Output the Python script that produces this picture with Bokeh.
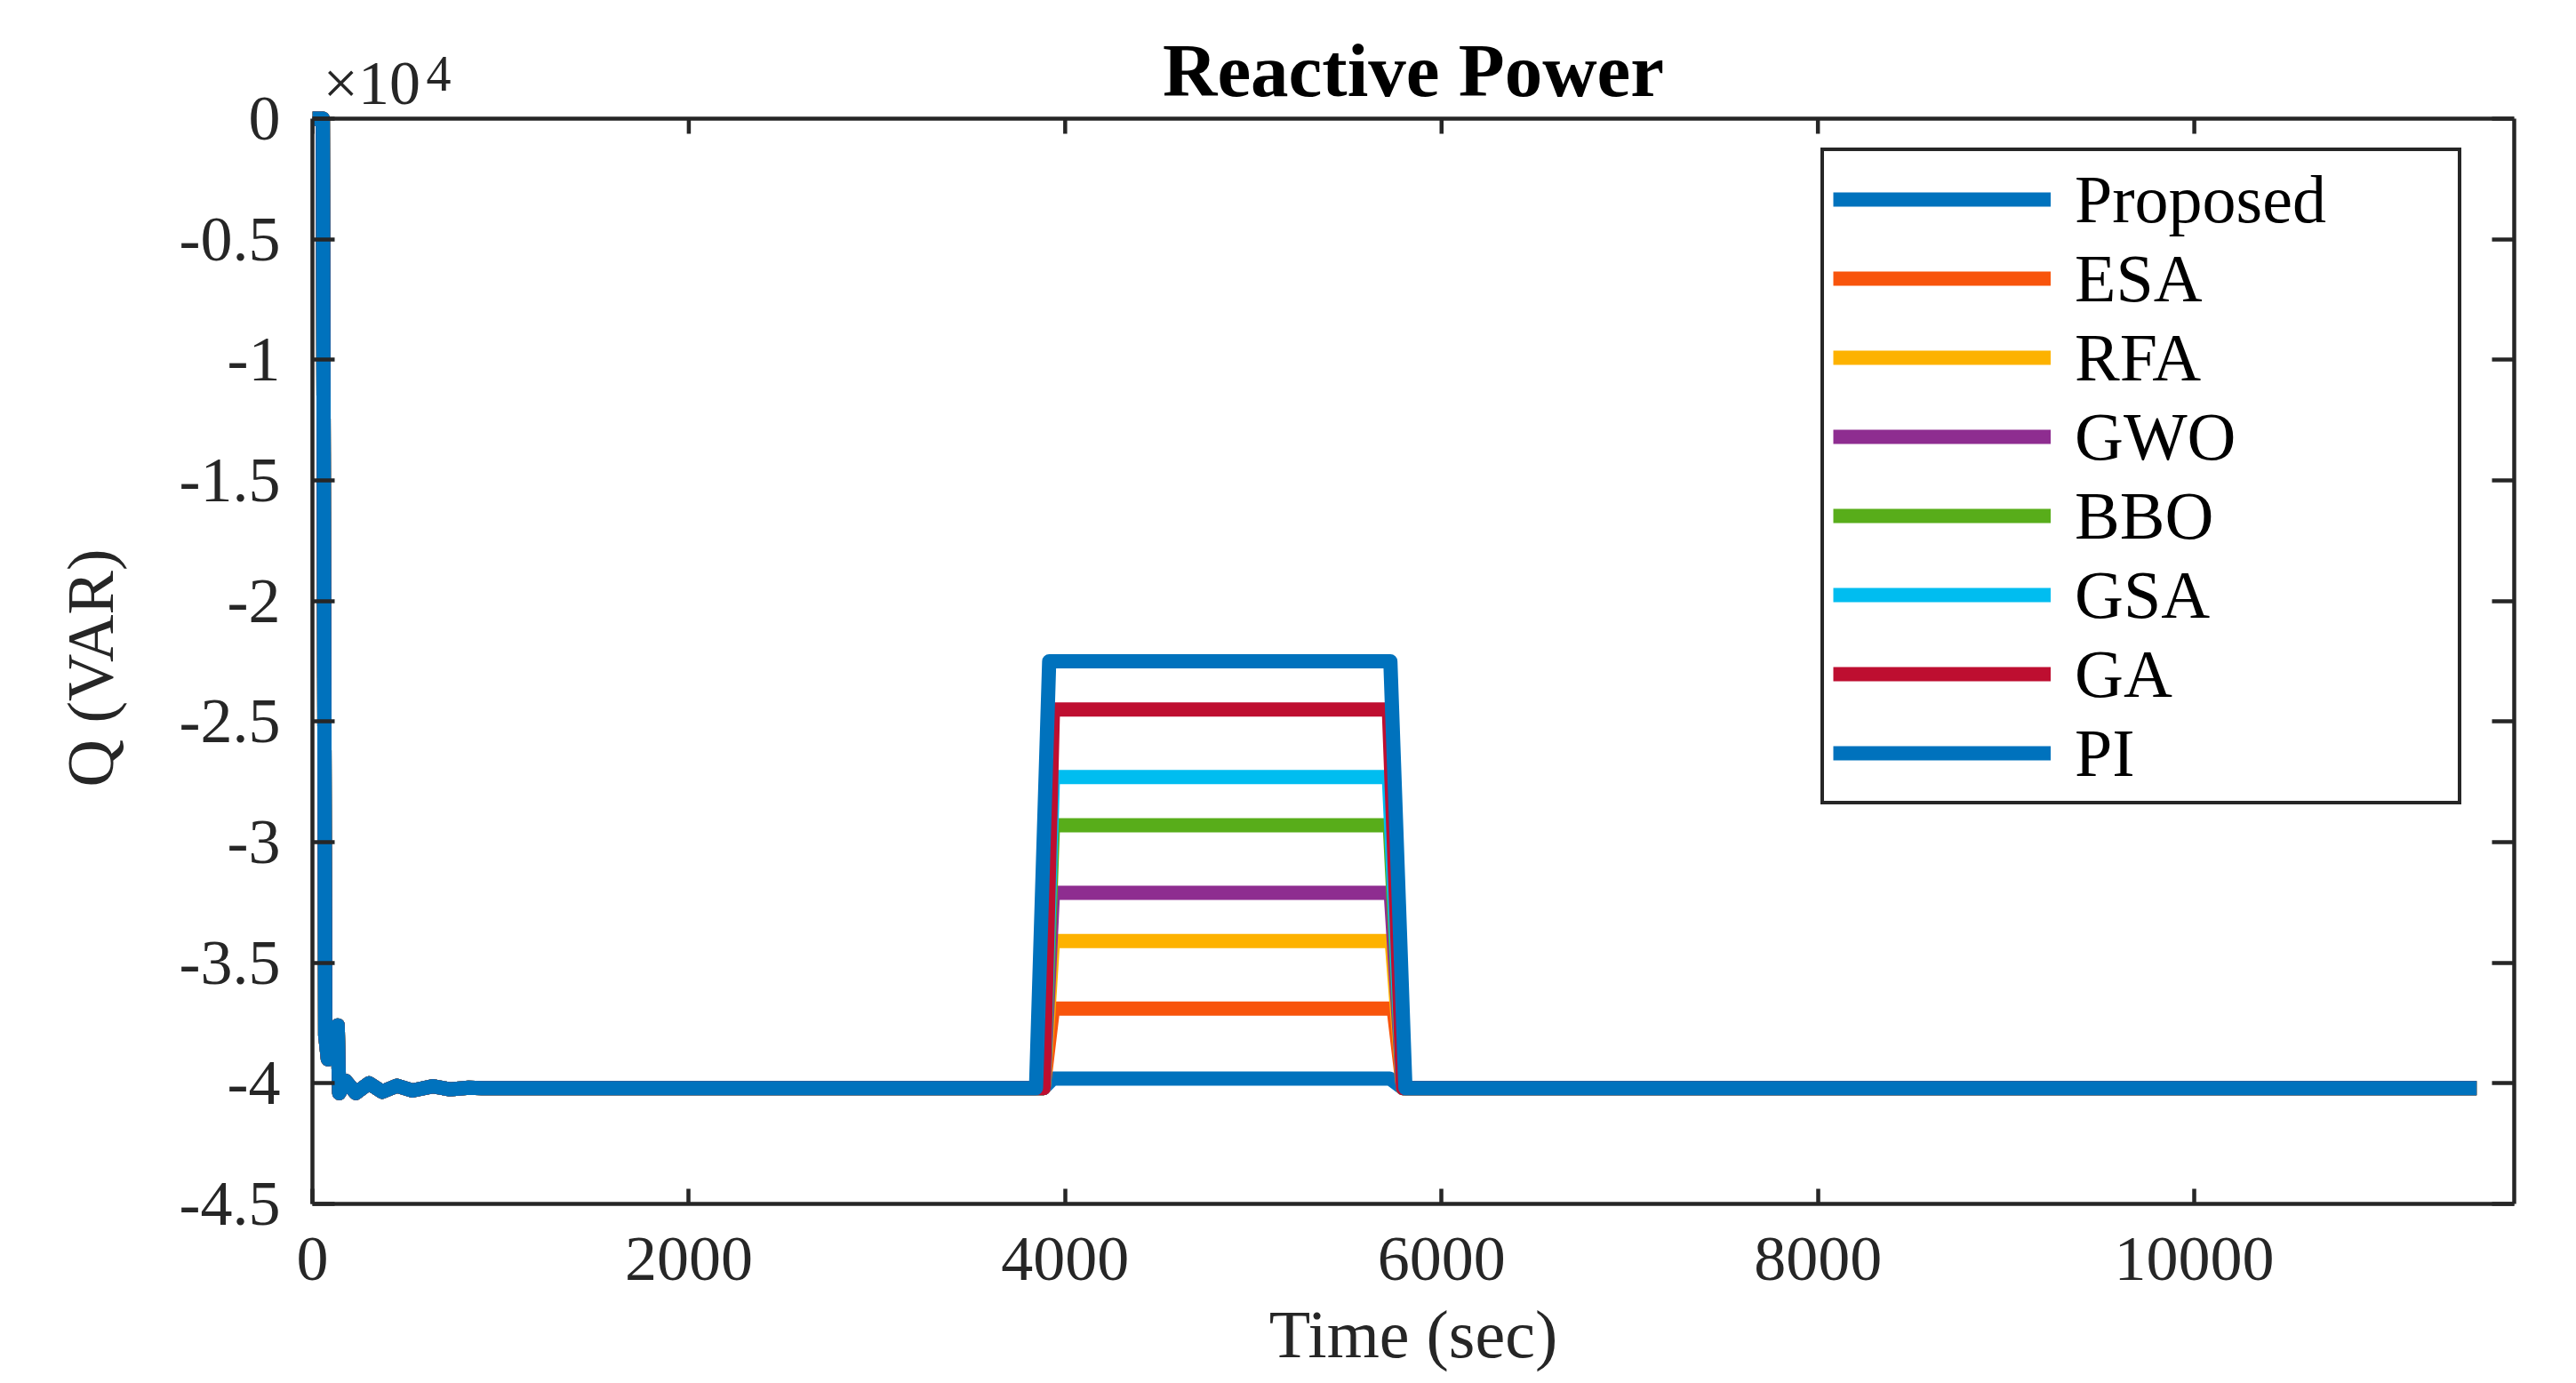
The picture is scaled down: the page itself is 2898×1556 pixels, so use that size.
from bokeh.plotting import figure
from bokeh.models import Range1d, LinearAxis, FixedTicker, Legend, LegendItem, Label, Span, Title
from bokeh.embed import file_html
from bokeh.resources import INLINE

# ---------------- data ----------------
methods = ["Proposed", "ESA", "RFA", "GWO", "BBO", "GSA", "GA", "PI"]
colors = ["#0072BD", "#F8540C", "#FDB200", "#8E2D90", "#58AD1A", "#00BDF0", "#BE0E30", "#0072BD"]

# initial transient shared by all controllers (time in s, Q in VAR)
t_start = [0, 55, 68, 82, 134, 142, 176, 230, 300, 370, 450, 530, 640, 730, 830, 900]
q_start = [0, 0, -38000, -39000, -37600, -40400, -39900, -40400, -40000, -40350,
           -40100, -40300, -40120, -40250, -40180, -40200]

q_base = -40200
t_end = 11500

# step disturbance window for each controller
rise_begin = [3885, 3885, 3885, 3885, 3885, 3885, 3885, 3845]
rise_done = [3935, 3935, 3935, 3935, 3935, 3935, 3935, 3915]
fall_begin = [5725, 5745, 5735, 5730, 5725, 5720, 5720, 5728]
fall_done = [5795, 5795, 5795, 5795, 5795, 5795, 5795, 5808]
q_step = [-39800, -36900, -34100, -32100, -29300, -27300, -24500, -22500]

x_ticks = [0, 2000, 4000, 6000, 8000, 10000]
x_tick_labels = ["0", "2000", "4000", "6000", "8000", "10000"]
y_ticks = [0, -5000, -10000, -15000, -20000, -25000, -30000, -35000, -40000, -45000]
y_tick_labels = ["0", "-0.5", "-1", "-1.5", "-2", "-2.5", "-3", "-3.5", "-4", "-4.5"]

x_min, x_max = 0, 11700
y_min, y_max = -45000, 0

# ---------------- layout constants ----------------
FONT = "Liberation Serif"
AX = "#262626"
W, H = 2898, 1556
B_LEFT, B_RIGHT, B_BOTTOM = 351, 70, 202
TOP_GAP = 133                       # pixels between canvas top and the y=0 line
frame_h = H - B_BOTTOM
px_per_y = (frame_h - TOP_GAP) / (y_max - y_min)
y_top = y_max + TOP_GAP / px_per_y  # frame is extended upward to host title texts
px_per_x = (W - B_LEFT - B_RIGHT) / (x_max - x_min)

p = figure(width=W, height=H, output_backend="svg", toolbar_location=None,
           x_range=Range1d(x_min, x_max), y_range=Range1d(y_min, y_top),
           min_border_left=B_LEFT, min_border_right=B_RIGHT, min_border_top=0,
           min_border_bottom=B_BOTTOM)
p.outline_line_color = None
p.xgrid.visible = False
p.ygrid.visible = False
p.background_fill_color = "white"
p.border_fill_color = "white"


def style_axis(ax, ticks, labels, tick_len, show_labels):
    ax.ticker = FixedTicker(ticks=ticks)
    if show_labels:
        ax.major_label_overrides = {t: l for t, l in zip(ticks, labels)}
    else:
        ax.major_label_overrides = {t: "" for t in ticks}
        ax.major_label_text_font_size = "1px"
        ax.major_label_standoff = 0
    ax.axis_line_color = AX
    ax.axis_line_width = 4.5
    ax.major_tick_line_color = AX
    ax.major_tick_line_width = 4.5
    ax.major_tick_in = tick_len
    ax.major_tick_out = 0
    ax.minor_tick_line_color = None
    ax.major_label_text_font = FONT
    ax.major_label_text_color = AX
    ax.axis_label_text_font = FONT
    ax.axis_label_text_font_style = "normal"
    ax.axis_label_text_color = AX


xb = p.xaxis[0]
yl = p.yaxis[0]
style_axis(xb, x_ticks, x_tick_labels, 17, True)
style_axis(yl, y_ticks, y_tick_labels, 25, True)
yl.bounds = (y_min, y_max)
xb.major_label_text_font_size = "72px"
yl.major_label_text_font_size = "72px"
xb.major_label_standoff = 38
yl.major_label_standoff = 36
xb.axis_label = "Time (sec)"
xb.axis_label_text_font_size = "76px"
xb.axis_label_standoff = 16

ya = LinearAxis()
style_axis(ya, y_ticks, y_tick_labels, 25, False)
ya.bounds = (y_min, y_max)
p.add_layout(ya, "right")

# y-axis title, centred on the bounded axis (below the top band)
p.add_layout(Title(text="Q (VAR)", align="left", offset=469,
                   standoff=112, text_font=FONT, text_font_size="74px",
                   text_font_style="normal", text_color=AX), "left")

# top border of the axes box with inward ticks
p.add_layout(Span(location=y_max, dimension="width", line_color=AX, line_width=4.5))
tick_len_y = 17 / px_per_y
p.segment(x0=x_ticks, y0=[y_max] * len(x_ticks), x1=x_ticks,
          y1=[y_max - tick_len_y] * len(x_ticks), line_color=AX, line_width=4.5)

# ---------------- lines ----------------
items = []
for i, name in enumerate(methods):
    xs = t_start + [rise_begin[i], rise_done[i], fall_begin[i], fall_done[i], t_end]
    ys = q_start + [q_base, q_step[i], q_step[i], q_base, q_base]
    r = p.line(xs, ys, line_color=colors[i], line_width=16, line_join="round")
    items.append(LegendItem(label=name, renderers=[r]))

legend = Legend(items=items, location=(1697, 449))
legend.margin = 0
legend.padding = 10
legend.spacing = 1
legend.glyph_width = 245
legend.glyph_height = 88
legend.label_height = 88
legend.label_width = 421
legend.label_standoff = 27
legend.label_text_font = FONT
legend.label_text_font_size = "76px"
legend.label_text_color = "black"
legend.border_line_color = AX
legend.border_line_alpha = 1.0
legend.border_line_width = 4
legend.background_fill_color = "white"
legend.background_fill_alpha = 1.0
p.add_layout(legend)

# title and exponent label, placed in the white band above the y=0 line
p.add_layout(Label(x=(x_min + x_max) / 2, y=y_max + 55 / px_per_y, text="Reactive Power",
                   text_font=FONT, text_font_style="bold", text_font_size="85px",
                   text_color="black", text_align="center", text_baseline="middle"))
p.add_layout(Label(x=x_min + 12 / px_per_x, y=y_max + 40 / px_per_y, text="×10",
                   text_font=FONT, text_font_size="70px", text_color=AX,
                   text_baseline="middle", text_align="left"))
p.add_layout(Label(x=x_min + 128 / px_per_x, y=y_max + 51 / px_per_y, text="4",
                   text_font=FONT, text_font_size="56px", text_color=AX,
                   text_baseline="middle", text_align="left"))

open("out.html", "w").write(file_html(p, INLINE))
